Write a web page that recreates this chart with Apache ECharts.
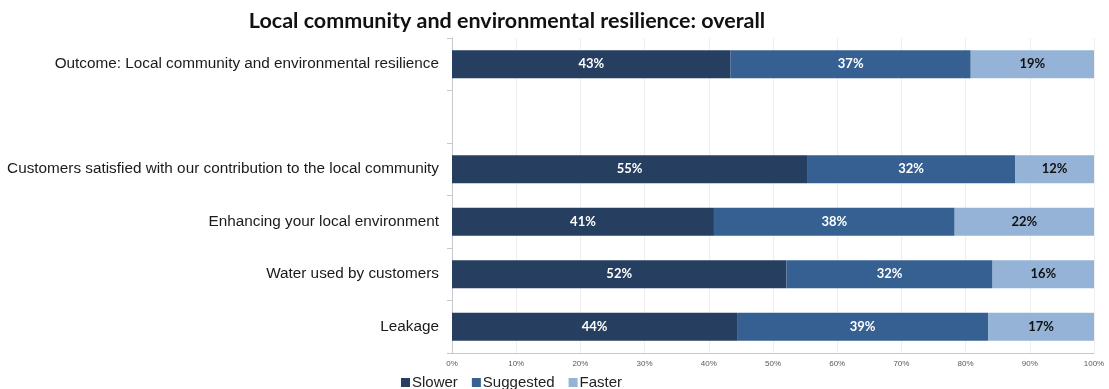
<!DOCTYPE html>
<html>
<head>
<meta charset="utf-8">
<script src="https://cdn.jsdelivr.net/npm/echarts@6/dist/echarts.min.js"></script>
<style>
  html, body { margin: 0; padding: 0; background: #fff; }
  #chart { width: 1109px; height: 389px; }
</style>
</head>
<body>
<div id="chart"></div>
<script>
// Measures, top to bottom (the empty entry is a spacer row)
const categories = [
  'Outcome: Local community and environmental resilience',
  '',
  'Customers satisfied with our contribution to the local community',
  'Enhancing your local environment',
  'Water used by customers',
  'Leakage'
];
// Share of respondents (%) for each pace option
const slower    = [43.4, null, 55.3, 40.8, 52.1, 44.4];
const suggested = [37.4, null, 32.4, 37.5, 32.1, 39.1];
const faster    = [19.2, null, 12.3, 21.7, 15.8, 16.5];
const seriesNames = ['Slower', 'Suggested', 'Faster'];
const colors = ['#263F61', '#366092', '#95B3D7'];
const labelColors = ['#ffffff', '#ffffff', '#111111'];

const chart = echarts.init(document.getElementById('chart'));

const mkSeries = (name, data, i) => ({
  name: name,
  type: 'bar',
  stack: 'total',
  data: data,
  barWidth: '53%',
  itemStyle: { color: colors[i] },
  label: {
    show: true,
    position: 'inside',
    formatter: p => (p.value == null ? '' : Math.round(p.value) + '%'),
    color: labelColors[i],
    fontFamily: 'Lato, "Open Sans", sans-serif',
    fontWeight: 'bold',
    fontSize: 13
  }
});

chart.setOption({
  animation: false,
  title: {
    text: 'Local community and environmental resilience: overall',
    left: 502,
    top: 5,
    textAlign: 'center',
    textStyle: {
      fontFamily: 'Lato, "Open Sans", sans-serif',
      fontWeight: 'bold',
      fontSize: 21.5,
      color: '#111'
    }
  },
  legend: {
    data: seriesNames,
    left: 396,
    top: 370,
    itemWidth: 9,
    itemHeight: 9,
    itemGap: 14,
    icon: 'rect',
    textStyle: {
      fontFamily: '"Liberation Sans", Arial, sans-serif',
      fontSize: 15,
      color: '#222',
      padding: [0, 0, 0, -3]
    }
  },
  grid: { left: 452, right: 15, top: 38, height: 315 },
  xAxis: {
    type: 'value',
    min: 0,
    max: 100,
    interval: 10,
    axisLabel: {
      formatter: '{value}%',
      fontSize: 8,
      color: '#595959',
      fontFamily: '"Liberation Sans", Arial, sans-serif',
      margin: 7
    },
    axisLine: { show: true, lineStyle: { color: '#c8c8c8' } },
    axisTick: { show: false },
    splitLine: { show: true, lineStyle: { color: '#eeeeee' } }
  },
  yAxis: {
    type: 'category',
    inverse: true,
    data: categories,
    axisLine: { show: true, lineStyle: { color: '#c8c8c8' } },
    axisTick: { show: true, length: 5, lineStyle: { color: '#c8c8c8' } },
    axisLabel: {
      fontSize: 15.3,
      color: '#1a1a1a',
      fontFamily: '"Liberation Sans", Arial, sans-serif',
      margin: 13
    }
  },
  series: [
    mkSeries(seriesNames[0], slower, 0),
    mkSeries(seriesNames[1], suggested, 1),
    mkSeries(seriesNames[2], faster, 2)
  ]
});
</script>
</body>
</html>
